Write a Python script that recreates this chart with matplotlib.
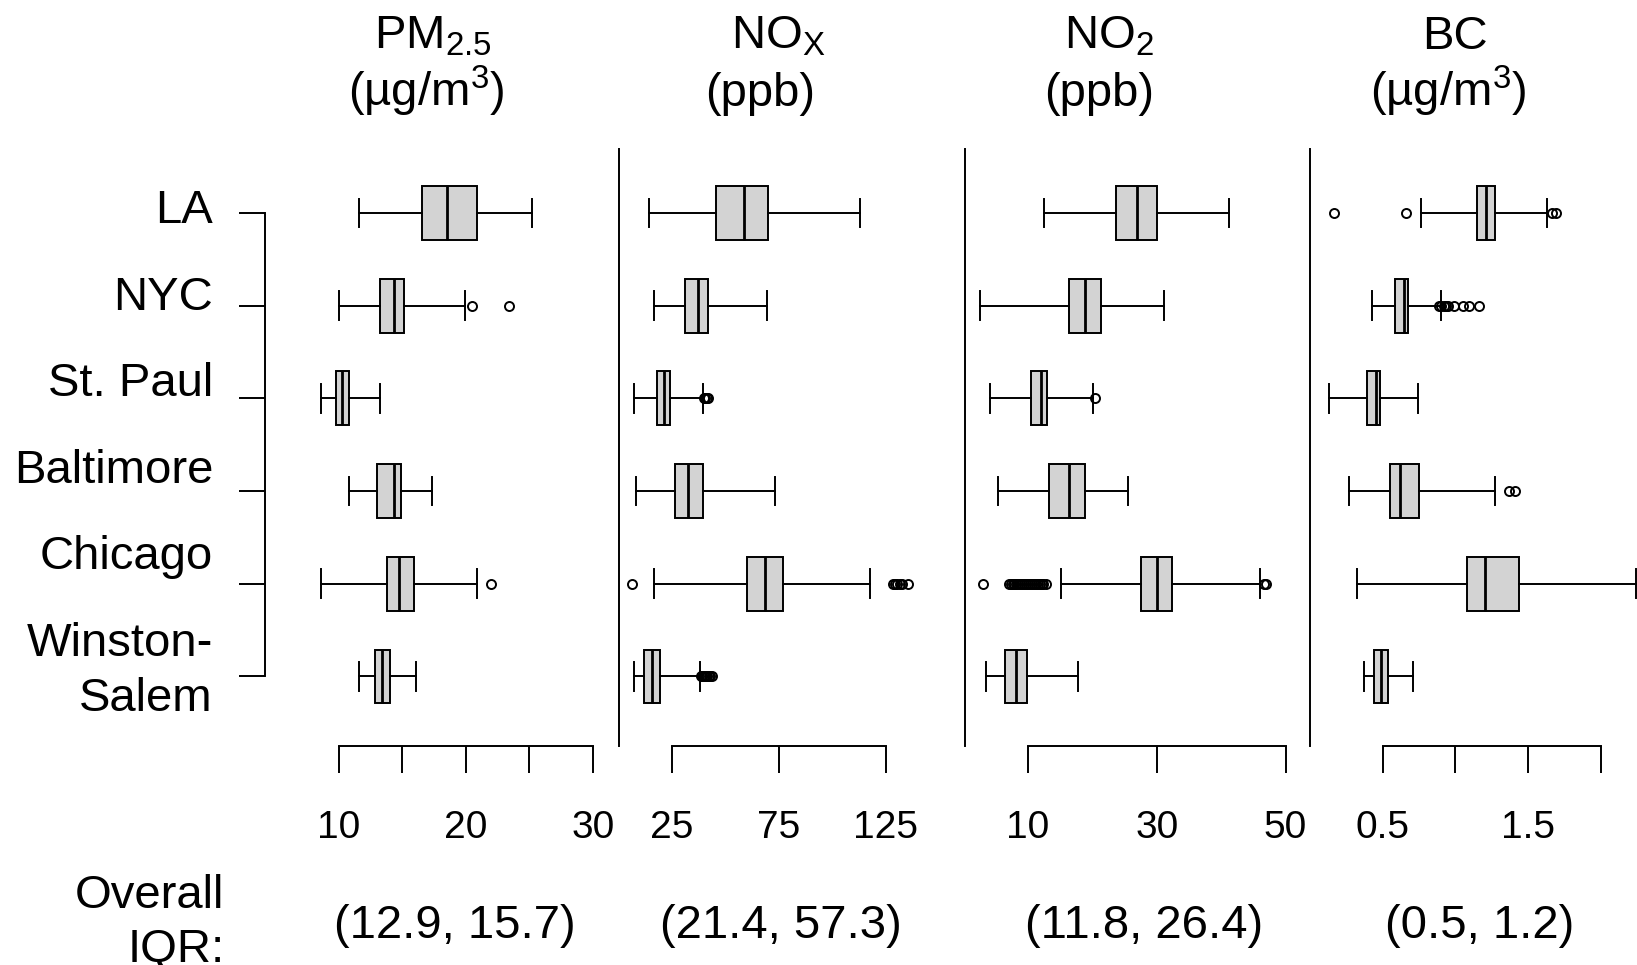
import matplotlib
matplotlib.use("Agg")
import matplotlib.pyplot as plt

plt.rcParams['font.family'] = 'Liberation Sans'
plt.rcParams['mathtext.fontset'] = 'custom'
plt.rcParams['mathtext.rm'] = 'Liberation Sans'
plt.rcParams['mathtext.it'] = 'Liberation Sans:italic'
plt.rcParams['mathtext.bf'] = 'Liberation Sans:bold'

# --- data ---
cities = ['LA', 'NYC', 'St. Paul', 'Baltimore', 'Chicago', 'Winston-\nSalem']

# (whisker low, Q1, median, Q3, whisker high) per city
pm25_stats = [(11.6, 16.5, 18.5, 20.9, 25.2),
              (10.0, 13.2, 14.3, 15.1, 19.9),
              (8.6, 9.8, 10.2, 10.8, 13.2),
              (10.8, 13.0, 14.3, 14.9, 17.3),
              (8.6, 13.8, 14.7, 15.9, 20.9),
              (11.6, 12.8, 13.4, 14.0, 16.1)]
pm25_fliers = [[], [20.5, 23.4], [], [], [22.0], []]

nox_stats = [(14.3, 45.5, 58.8, 69.9, 112.9),
             (16.7, 31.1, 37.2, 42.0, 69.7),
             (7.0, 17.8, 21.4, 24.1, 39.6),
             (8.2, 26.3, 32.5, 39.7, 73.4),
             (16.7, 59.9, 68.5, 77.0, 117.6),
             (7.0, 11.9, 15.8, 19.4, 38.3)]
nox_fliers = [[], [],
              [40.0, 40.6, 41.2, 42.0],
              [],
              [6.4, 128.7, 129.6, 130.5, 131.6, 132.6, 135.4],
              [38.6, 39.2, 39.8, 40.4, 41.0, 41.6, 42.2, 42.8, 43.6]]

no2_stats = [(12.5, 23.6, 26.9, 30.1, 41.2),
             (2.6, 16.4, 18.9, 21.3, 31.2),
             (4.1, 10.5, 12.0, 12.95, 20.1),
             (5.4, 13.3, 16.4, 18.9, 25.6),
             (15.2, 27.5, 30.0, 32.4, 46.0),
             (3.4, 6.5, 8.2, 9.8, 17.7)]
no2_fliers = [[], [], [20.4], [],
              [3.0, 7.0, 7.3, 7.6, 7.9, 8.2, 8.5, 8.8, 9.1, 9.4, 9.7, 10.0,
               10.3, 10.6, 10.9, 11.2, 11.5, 11.8, 12.1, 12.4, 12.8, 46.6, 47.0],
              []]

bc_stats = [(0.765, 1.15, 1.21, 1.276, 1.629),
            (0.43, 0.586, 0.646, 0.677, 0.904),
            (0.13, 0.39, 0.453, 0.483, 0.746),
            (0.272, 0.552, 0.622, 0.749, 1.27),
            (0.325, 1.08, 1.205, 1.437, 2.24),
            (0.373, 0.444, 0.49, 0.538, 0.712)]
bc_fliers = [[0.164, 0.664, 1.665, 1.69],
             [0.89, 0.905, 0.92, 0.935, 0.95, 0.99, 1.05, 1.095, 1.16],
             [], [1.37, 1.41], [], []]

titles = [(r'$\mathregular{PM_{2.5}}$', r'(µg/m$\mathregular{^3}$)'),
          (r'$\mathregular{NO_X}$', '(ppb)'),
          (r'$\mathregular{NO_2}$', '(ppb)'),
          ('BC', r'(µg/m$\mathregular{^3}$)')]
iqr_labels = ['(12.9, 15.7)', '(21.4, 57.3)', '(11.8, 26.4)', '(0.5, 1.2)']

ticks = [[10, 15, 20, 25, 30], [25, 75, 125], [10, 30, 50], [0.5, 1.0, 1.5, 2.0]]
tick_labels = [['10', '', '20', '', '30'], ['25', '75', '125'],
               ['10', '30', '50'], ['0.5', '', '1.5', '']]

# --- layout (pixels) ---
W, H = 1637, 965
fig = plt.figure(figsize=(W / 100, H / 100), dpi=100)


def px_axes(left, right, top, bottom):
    return fig.add_axes([left / W, 1 - bottom / H, (right - left) / W, (bottom - top) / H])


panel_px = [(264.5, 619), (619, 965), (965, 1310), (1310, 1637)]
xlims = [(4.134, 32.05), (0.176, 162.2), (0.213, 53.8), (0.0017, 2.249)]
title_x = [(433, 426), (778, 760), (1109, 1099), (1455, 1448)]
iqr_x = [455, 781, 1144, 1480]

all_stats = [pm25_stats, nox_stats, no2_stats, bc_stats]
all_fliers = [pm25_fliers, nox_fliers, no2_fliers, bc_fliers]

lw = 1.4
for k in range(4):
    ax = px_axes(panel_px[k][0], panel_px[k][1], 149, 746)
    stats = [dict(whislo=s[0], q1=s[1], med=s[2], q3=s[3], whishi=s[4], fliers=f)
             for s, f in zip(all_stats[k], all_fliers[k])]
    ax.bxp(stats, positions=range(len(cities)), widths=0.58, capwidths=0.31,
           orientation='horizontal', patch_artist=True, manage_ticks=False,
           boxprops=dict(facecolor='#d3d3d3', edgecolor='black', linewidth=lw),
           medianprops=dict(color='black', linewidth=2.0),
           whiskerprops=dict(color='black', linewidth=lw),
           capprops=dict(color='black', linewidth=lw),
           flierprops=dict(marker='o', markerfacecolor='none', markeredgecolor='black',
                           markersize=6.5, markeredgewidth=1.4))
    ax.set_xlim(*xlims[k])
    ax.set_ylim(5.75, -0.69)
    for side in ['top', 'right']:
        ax.spines[side].set_visible(False)
    for side in ['left', 'bottom']:
        ax.spines[side].set_linewidth(lw)
    ax.set_facecolor('none')
    ax.spines['bottom'].set_bounds(ticks[k][0], ticks[k][-1])
    ax.set_xticks(ticks[k])
    ax.set_xticklabels(tick_labels[k])
    ax.tick_params(axis='x', length=19.4, width=lw, labelsize=28, pad=27)
    if k == 0:
        ax.spines['left'].set_bounds(0, len(cities) - 1)
        ax.set_yticks(range(len(cities)))
        ax.set_yticklabels([])
        ax.tick_params(axis='y', length=18.7, width=lw)
    else:
        ax.set_yticks([])

    fig.text(title_x[k][0] / W, 1 - 49 / H, titles[k][0], ha='center', va='baseline', fontsize=34)
    fig.text(title_x[k][1] / W, 1 - 106 / H, titles[k][1], ha='center', va='baseline', fontsize=34)
    fig.text(iqr_x[k] / W, 1 - 938 / H, iqr_labels[k], ha='center', va='baseline', fontsize=34)

# city labels: baselines 223 px + 86.6 px per row
ax_lab = px_axes(0, 213, 223 - 43.3, 656 + 43.3)
ax_lab.axis('off')
ax_lab.set_xlim(0, 1)
ax_lab.set_ylim(len(cities) - 0.5, -0.5)
for i, name in enumerate(cities):
    for j, line in enumerate(name.split('\n')):
        ax_lab.text(1, i + j * 0.635, line, ha='right', va='baseline', fontsize=34)

fig.text(224.5 / W, 1 - 908 / H, 'Overall', ha='right', va='baseline', fontsize=34)
fig.text(224.5 / W, 1 - 962 / H, 'IQR:', ha='right', va='baseline', fontsize=34)

fig.savefig('out.png', dpi=100)
